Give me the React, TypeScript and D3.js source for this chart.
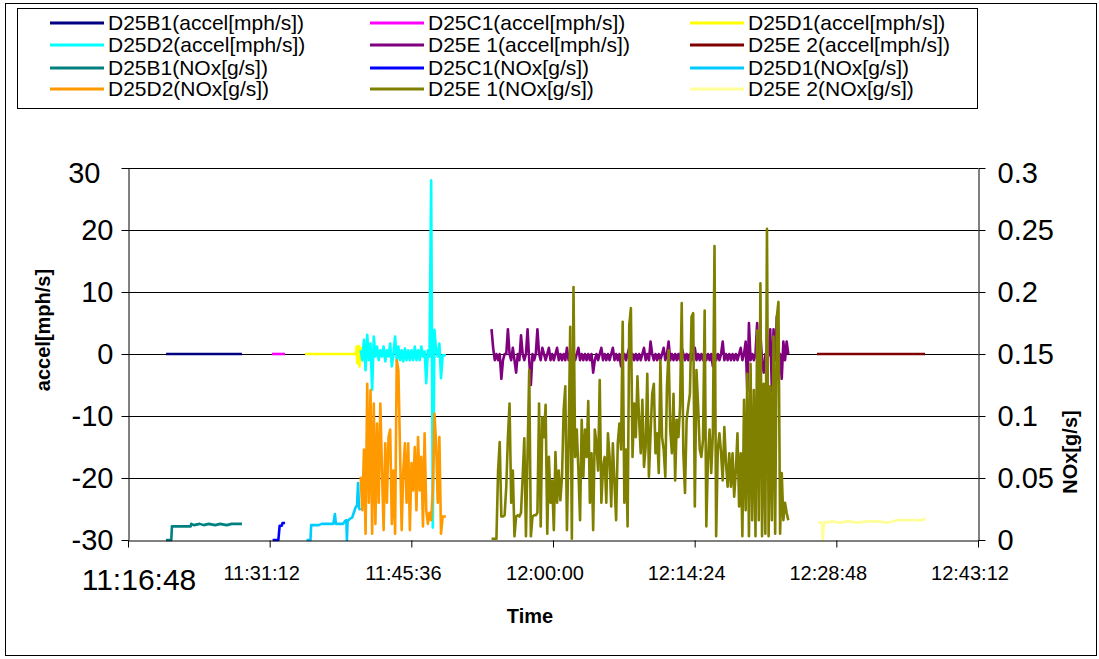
import { useEffect, useRef } from 'react';
import * as d3 from 'd3';

const xTickLabels = ['11:16:48', '11:31:12', '11:45:36', '12:00:00', '12:14:24', '12:28:48', '12:43:12'];
const accelTicks = [-30, -20, -10, 0, 10, 20, 30];
const noxTicks = [0, 0.05, 0.1, 0.15, 0.2, 0.25, 0.3];

// short runs: [clock time, value]
const b1Accel = [['11:20:40', 0], ['11:28:23', 0]];
const c1Accel = [['11:31:26', 0], ['11:32:46', 0]];
const d1Accel = [
  ['11:34:48', 0], ['11:39:58', 0], ['11:40:02', 1.2], ['11:40:06', -1.5], ['11:40:12', 0.5],
  ['11:40:16', 1.3], ['11:40:20', -2], ['11:40:26', 1], ['11:40:30', -1],
];
const e2Accel = [['12:26:50', 0], ['12:37:49', 0]];

const b1NOx = [
  ['11:20:40', 0], ['11:21:12', 0], ['11:21:16', 0.011], ['11:23:10', 0.011], ['11:23:14', 0.013],
  ['11:23:30', 0.012], ['11:24:05', 0.013], ['11:24:30', 0.012], ['11:25:00', 0.013], ['11:25:40', 0.012],
  ['11:26:10', 0.013], ['11:26:50', 0.012], ['11:27:20', 0.013], ['11:28:23', 0.013],
];
const c1NOx = [
  ['11:31:30', 0], ['11:32:05', 0], ['11:32:13', 0.0115], ['11:32:26', 0.0115], ['11:32:30', 0.0137], ['11:32:46', 0.0137],
];
const d1NOx = [
  ['11:34:57', 0], ['11:35:21', 0], ['11:35:25', 0.012], ['11:36:10', 0.012], ['11:36:30', 0.013],
  ['11:37:40', 0.013], ['11:37:50', 0.021], ['11:37:56', 0.013], ['11:38:40', 0.013], ['11:38:50', 0.015],
  ['11:39:00', 0.016], ['11:39:03', 0], ['11:39:07', 0.015], ['11:39:20', 0.017], ['11:39:35', 0.018],
  ['11:39:45', 0.022], ['11:39:55', 0.026], ['11:40:05', 0.028], ['11:40:11', 0.046], ['11:40:17', 0.026],
  ['11:40:23', 0.024],
];
const e2NOx = [
  ['12:26:58', 0.014], ['12:27:20', 0.014], ['12:27:25', 0], ['12:27:33', 0.014], ['12:28:30', 0.015],
  ['12:29:00', 0.014], ['12:30:00', 0.015], ['12:31:00', 0.014], ['12:32:00', 0.015], ['12:33:00', 0.015],
  ['12:34:00', 0.014], ['12:35:00', 0.016], ['12:36:00', 0.016], ['12:37:40', 0.016], ['12:37:49', 0.018],
];

// logged runs, one value every 10 s
const sampleStep = 10;
const d2Start = '11:40:27';
const d2Accel = [
  0.6, -1, 2.3, -2.6, 3.1, -1, 1.7, -5.8, 2.8, -0.4, 1.2, -1, 0.6, -0.4, 1.2, -1.2, 0.6, -0.4, 1.7, -2,
  0.1, 2.8, -1.2, 1.2, -1, 0.6, -1.2, 0.9, -1, 0.6, -1, 0.6, -1, 1.2, -1, 0.6, -1, 1.2, -0.4, 0.4,
  -4.7, 0.6, -0.4, 28, -28, 3.9, 0.6, -0.4, 1.7, -3.9, -0.2, -0.2, -0.2,
];
const d2NOx = [
  0.051, 0.024, 0.073, 0.005, 0.126, 0.030, 0.121, 0.005, 0.110, 0.013, 0.094, 0.030, 0.110, 0.056, 0.008,
  0.078, 0.030, 0.083, 0.089, 0.013, 0.056, 0.005, 0.145, 0.137, 0.073, 0.008, 0.056, 0.078, 0.030, 0.078,
  0.008, 0.062, 0.040, 0.075, 0.024, 0.083, 0.040, 0.067, 0.011, 0.086, 0.024, 0.013, 0.022, 0.016, 0.040,
  0.102, 0.078, 0.030, 0.083, 0.005, 0.019, 0.019, 0.019,
];
const e1Start = '11:53:45';
const e1Accel = [
  4, 1, -1, 0, -1, 0, -4, -1, 0, 0, 4, 0, -1, 1, -1, -3, 0, -1, 3, 0,
  -1, 0, 4, -1, -5, 0, -1, 0, 4, 0, -1, 1, 0, -1, 0, 1, -1, 0, -1, 0,
  1, -1, 0, -1, 0, -1, 1, -1, 0, -1, 0, -1, 0, 1, -1, 0, -1, 0, -1, 0,
  -1, 0, -3, -1, 0, -1, 0, 1, -1, 0, -1, 0, -1, 0, 1, -1, 0, -1, 0, -2,
  -1, 0, -1, 0, 1, -1, 0, -1, 0,
  -1, 0, -1, 0, 1, -1, 0, -1, 2, 0, -1, 0, -1, 0, -1, 0, 1, -1, 0, 2,
  -1, 0, -1, 0, -1, 0, -1, 1, 0, -1, 0, -1, 0, -1, 0, 1, -1, 0, -1, 0,
  -1, 0, -1, 0, -1, 0, -2, 0, -1, 0, -1, 0, 2, -1, 0, -1, 0, -1, 0, -1,
  0, -1, 0, 1, -1, 0, 2, -6, 5, -1, 0, -1, 0, 5, -4, 3, -1, -3, 0, -1,
  0, 4, -6, 4, -1, 6, -4, 0, -4, 2, -1, 2, 0,
];
const e1NOx = [
  0.001, 0.001, 0.001, 0.001, 0.056, 0.079, 0.019, 0.019, 0.020, 0.043,
  0.083, 0.110, 0.030, 0.056, 0.003, 0.019, 0.020, 0.019, 0.022, 0.051,
  0.082, 0.003, 0.071, 0.137, 0.003, 0.019, 0.020, 0.020, 0.022, 0.110,
  0.011, 0.099, 0.083, 0.109, 0.005, 0.067, 0.030, 0.048, 0.008, 0.071,
  0.030, 0.056, 0.032, 0.051, 0.105, 0.124, 0.008, 0.078, 0.172, 0.001,
  0.204, 0.067, 0.089, 0.056, 0.016, 0.097, 0.051, 0.089, 0.067, 0.112,
  0.030, 0.070, 0.008, 0.089, 0.078, 0.056, 0.129, 0.030, 0.059, 0.067,
  0.030, 0.086, 0.067, 0.027, 0.078, 0.046, 0.016, 0.078, 0.094, 0.073,
  0.176, 0.030, 0.073, 0.011, 0.173, 0.187, 0.067, 0.110, 0.083,
  0.132, 0.097, 0.070, 0.113, 0.059, 0.075, 0.134, 0.051, 0.086, 0.118,
  0.126, 0.070, 0.086, 0.054, 0.145, 0.083, 0.073, 0.051, 0.124, 0.153,
  0.089, 0.070, 0.118, 0.048, 0.097, 0.083, 0.108, 0.191, 0.070, 0.038,
  0.097, 0.108, 0.118, 0.180, 0.183, 0.027, 0.137, 0.108, 0.073, 0.067,
  0.081, 0.185, 0.011, 0.065, 0.089, 0.054, 0.086, 0.237, 0.003, 0.073,
  0.086, 0.070, 0.048, 0.091, 0.062, 0.043, 0.070, 0.043, 0.070, 0.035,
  0.056, 0.086, 0.027, 0.070, 0.003, 0.113, 0.024, 0.134, 0.003, 0.142,
  0.016, 0.121, 0.003, 0.169, 0.016, 0.207, 0.003, 0.126, 0.005, 0.251,
  0.003, 0.124, 0.016, 0.164, 0.005, 0.180, 0.192, 0.005, 0.054, 0.016,
  0.030, 0.022, 0.016,
];

const secs = (s) => {
  const [h, m, ss] = s.split(':').map(Number);
  return h * 3600 + m * 60 + ss;
};
const pairs = (rows) => rows.map((r) => [secs(r[0]), r[1]]);
const sampled = (start, values) => values.map((v, i) => [secs(start) + i * sampleStep, v]);

const series = [
  { name: 'D25B1(accel[mph/s])', color: '#000080', axis: 'accel', pts: pairs(b1Accel) },
  { name: 'D25C1(accel[mph/s])', color: '#FF00FF', axis: 'accel', pts: pairs(c1Accel) },
  { name: 'D25D1(accel[mph/s])', color: '#FFFF00', axis: 'accel', pts: pairs(d1Accel) },
  { name: 'D25D2(accel[mph/s])', color: '#00FFFF', axis: 'accel', pts: sampled(d2Start, d2Accel) },
  { name: 'D25E 1(accel[mph/s])', color: '#800080', axis: 'accel', pts: sampled(e1Start, e1Accel) },
  { name: 'D25E 2(accel[mph/s])', color: '#800000', axis: 'accel', pts: pairs(e2Accel) },
  { name: 'D25B1(NOx[g/s])', color: '#008080', axis: 'nox', pts: pairs(b1NOx) },
  { name: 'D25C1(NOx[g/s])', color: '#0000FF', axis: 'nox', pts: pairs(c1NOx) },
  { name: 'D25D1(NOx[g/s])', color: '#00CCFF', axis: 'nox', pts: pairs(d1NOx) },
  { name: 'D25D2(NOx[g/s])', color: '#FF9900', axis: 'nox', pts: sampled(d2Start, d2NOx) },
  { name: 'D25E 1(NOx[g/s])', color: '#808000', axis: 'nox', pts: sampled(e1Start, e1NOx) },
  { name: 'D25E 2(NOx[g/s])', color: '#FFFF99', axis: 'nox', pts: pairs(e2NOx) },
];

const FONT = "'Liberation Sans', Arial, sans-serif";

export default function App() {
  const ref = useRef(null);

  useEffect(() => {
    document.body.style.margin = '0';
    const svg = d3.select(ref.current);
    svg.selectAll('*').remove();

    const left = 128, right = 978, top = 168, bottom = 540;
    const x = d3.scaleLinear()
      .domain([secs(xTickLabels[0]), secs(xTickLabels[xTickLabels.length - 1])])
      .range([left, right]);
    const yL = d3.scaleLinear().domain([-30, 30]).range([bottom, top]);
    const yR = d3.scaleLinear().domain([0, 0.3]).range([bottom, top]);

    svg.append('rect').attr('width', 1099).attr('height', 659).attr('fill', '#fff');
    svg.append('rect')
      .attr('x', 5.5).attr('y', 3.5).attr('width', 1091).attr('height', 652)
      .attr('fill', 'none').attr('stroke', '#000');

    // legend
    const lg = svg.append('g').attr('font-family', FONT).attr('font-size', 21);
    lg.append('rect')
      .attr('x', 17.5).attr('y', 8.5).attr('width', 960).attr('height', 100)
      .attr('fill', '#fff').attr('stroke', '#000');
    const colX = [50, 370, 690];
    const rowY = [23, 45, 68, 89];
    series.forEach((s, i) => {
      const cx = colX[i % 3];
      const cy = rowY[Math.floor(i / 3)];
      lg.append('line')
        .attr('x1', cx).attr('x2', cx + 54).attr('y1', cy).attr('y2', cy)
        .attr('stroke', s.color).attr('stroke-width', 3);
      lg.append('text').attr('x', cx + 58).attr('y', cy).attr('dy', '0.35em').text(s.name);
    });

    // gridlines
    svg.append('g').selectAll('line')
      .data(accelTicks.filter((t) => t !== -30))
      .join('line')
      .attr('x1', left).attr('x2', right)
      .attr('y1', (d) => yL(d) + 0.5).attr('y2', (d) => yL(d) + 0.5)
      .attr('stroke', '#000').attr('stroke-width', 1);

    // series
    const plot = svg.append('g');
    series.forEach((s) => {
      const yy = s.axis === 'accel' ? yL : yR;
      const line = d3.line().x((d) => x(d[0])).y((d) => yy(d[1]));
      plot.append('path')
        .attr('d', line(s.pts))
        .attr('fill', 'none')
        .attr('stroke', s.color)
        .attr('stroke-width', 2.6)
        .attr('stroke-linejoin', 'round');
    });

    // axes
    const styleAxis = (g, size) => {
      g.attr('font-family', FONT).attr('font-size', size);
      g.selectAll('text').attr('fill', '#000');
      g.selectAll('line').attr('stroke', '#000');
      g.select('.domain').attr('stroke', '#000');
    };

    const gl = svg.append('g')
      .attr('transform', `translate(${left + 0.5},0)`)
      .call(d3.axisLeft(yL).tickValues(accelTicks).tickSize(7).tickSizeOuter(0).tickPadding(8).tickFormat((d) => String(d)));
    styleAxis(gl, 29);
    gl.selectAll('.tick text').filter((d) => d === 30).attr('dx', -13).attr('dy', '0.5em');

    const gr = svg.append('g')
      .attr('transform', `translate(${right + 0.5},0)`)
      .call(d3.axisRight(yR).tickValues(noxTicks).tickSize(7).tickSizeOuter(0).tickPadding(12).tickFormat((d) => String(d)));
    styleAxis(gr, 29);
    gr.selectAll('.tick text').filter((d) => d === 0.3).attr('dy', '0.5em');

    const gx = svg.append('g')
      .attr('transform', `translate(0,${bottom + 0.5})`)
      .call(d3.axisBottom(x).tickValues(xTickLabels.map(secs)).tickSize(7).tickSizeOuter(0).tickFormat(() => ''));
    styleAxis(gx, 20);

    svg.append('g').attr('font-family', FONT).selectAll('text')
      .data(xTickLabels)
      .join('text')
      .attr('x', (d, i) => x(secs(d)) + (i === 0 ? 11 : -8))
      .attr('y', (d, i) => (i === 0 ? 590 : 580))
      .attr('font-size', (d, i) => (i === 0 ? 30 : 20))
      .attr('text-anchor', 'middle')
      .text((d) => d);

    // axis titles
    svg.append('text')
      .attr('transform', 'translate(50,330) rotate(-90)')
      .attr('text-anchor', 'middle').attr('font-family', FONT)
      .attr('font-weight', 'bold').attr('font-size', 20)
      .text('accel[mph/s]');
    svg.append('text')
      .attr('transform', 'translate(1077,452) rotate(-90)')
      .attr('text-anchor', 'middle').attr('font-family', FONT)
      .attr('font-weight', 'bold').attr('font-size', 20)
      .text('NOx[g/s]');
    svg.append('text')
      .attr('x', 530).attr('y', 623)
      .attr('text-anchor', 'middle').attr('font-family', FONT)
      .attr('font-weight', 'bold').attr('font-size', 20)
      .text('Time');
  }, []);

  return <svg ref={ref} width={1099} height={659} style={{ display: 'block' }} />;
}
